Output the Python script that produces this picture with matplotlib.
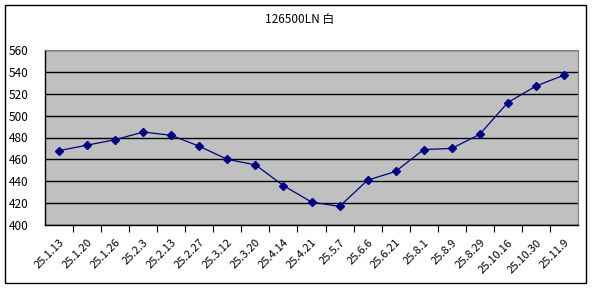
import matplotlib
matplotlib.use('Agg')
import matplotlib.pyplot as plt
from matplotlib.patches import Rectangle

plt.rcParams['font.family'] = ['Noto Sans CJK JP', 'DejaVu Sans']

# data
dates = ['25.1.13', '25.1.20', '25.1.26', '25.2.3', '25.2.13', '25.2.27',
         '25.3.12', '25.3.20', '25.4.14', '25.4.21', '25.5.7', '25.6.6',
         '25.6.21', '25.8.1', '25.8.9', '25.8.29', '25.10.16', '25.10.30',
         '25.11.9']
prices = [468, 473, 478, 485, 482, 472, 460, 455, 436, 421, 417, 441,
          449, 469, 470, 483, 512, 527, 537]
title = '126500LN 白'

W, H = 592, 288
fig = plt.figure(figsize=(W / 100, H / 100), dpi=100)
fig.patch.set_facecolor('white')

# outer chart border
fig.add_artist(Rectangle((4.5 / W, 1 - 283 / H), 581 / W, 278.5 / H,
                         transform=fig.transFigure, fill=False,
                         edgecolor='black', linewidth=1))

ax = fig.add_axes([45 / W, 1 - 225 / H, 533 / W, 175 / H])
ax.set_facecolor('#c0c0c0')

x = list(range(len(prices)))
ax.plot(x, prices, color='#000080', linewidth=0.9, marker='D',
        markersize=4, markerfacecolor='#000080', markeredgecolor='#000080')

ax.set_xlim(-0.5, len(prices) - 0.5)
ax.set_ylim(400, 560)
ax.set_yticks(range(400, 561, 20))
ax.yaxis.grid(True, color='black', linewidth=1)
ax.set_axisbelow(True)

ax.set_xticks([i + 0.5 for i in range(len(prices) - 1)], minor=False)
ax.set_xticklabels([])
ax.set_xticks(x, minor=True)
ax.set_xticklabels(dates, minor=True, rotation=45, ha='right',
                   rotation_mode='anchor', fontsize=8)
ax.tick_params(axis='x', which='major', direction='out', length=5, width=0.8)
ax.tick_params(axis='x', which='minor', length=0, pad=9)
ax.tick_params(axis='y', length=0, labelsize=8.5, pad=12)

ax.spines['top'].set_color('#808080')
ax.spines['right'].set_color('#808080')
ax.spines['top'].set_linewidth(0.8)
ax.spines['right'].set_linewidth(0.8)
ax.spines['left'].set_color('black')
ax.spines['bottom'].set_color('black')
ax.spines['left'].set_linewidth(1)
ax.spines['bottom'].set_linewidth(1)

fig.text(300 / W, 1 - 19 / H, title, ha='center', va='center', fontsize=8.5)

fig.savefig('out.png', dpi=100)
plt.close()
